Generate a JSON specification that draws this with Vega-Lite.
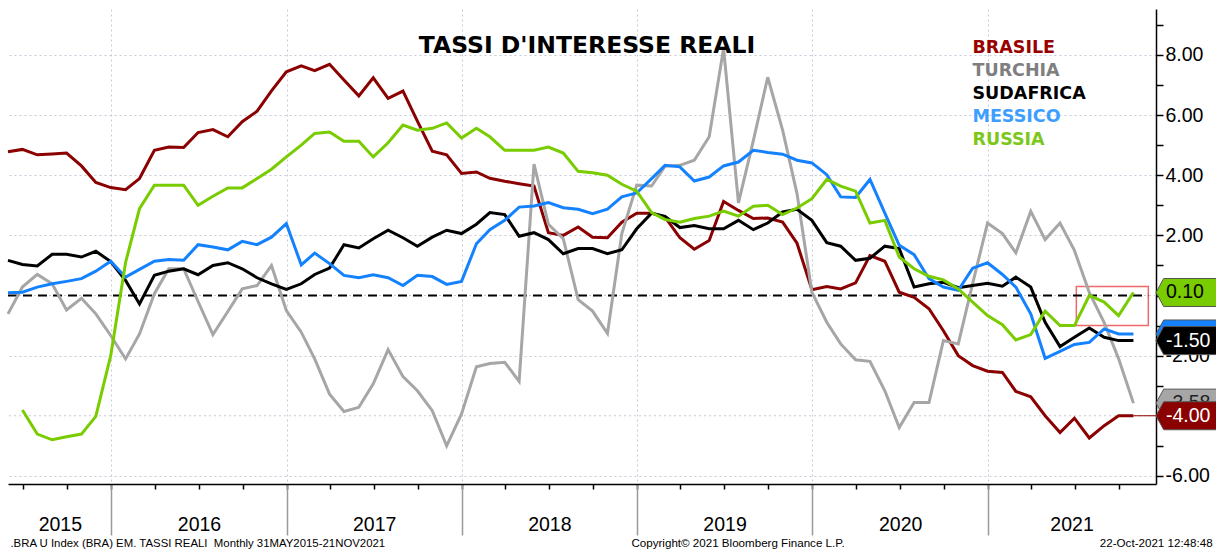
{
  "$schema": "https://vega.github.io/schema/vega-lite/v6.json",
  "width": 1148,
  "height": 475,
  "autosize": "none",
  "padding": {"left": 8, "top": 9, "right": 60, "bottom": 69},
  "background": "white",
  "config": {
    "view": {"stroke": null},
    "font": "DejaVu Sans",
    "locale": {"number": {"decimal": ".", "thousands": ",", "grouping": [3], "currency": ["$", ""], "minus": "-"}}
  },
  "title": {
    "text": "TASSI D'INTERESSE REALI",
    "font": "DejaVu Sans",
    "fontWeight": "bold",
    "fontSize": 23.5,
    "color": "black",
    "anchor": "middle",
    "frame": "group",
    "baseline": "alphabetic",
    "offset": -67,
    "dx": 5
  },
  "data": {
    "values": [
      {"date": "2015-05-31", "BRASILE": 4.78, "TURCHIA": -0.61, "SUDAFRICA": 1.17, "MESSICO": 0.09, "RUSSIA": null},
      {"date": "2015-06-30", "BRASILE": 4.86, "TURCHIA": 0.28, "SUDAFRICA": 1.03, "MESSICO": 0.11, "RUSSIA": -3.81},
      {"date": "2015-07-31", "BRASILE": 4.68, "TURCHIA": 0.70, "SUDAFRICA": 0.98, "MESSICO": 0.28, "RUSSIA": -4.61},
      {"date": "2015-08-31", "BRASILE": 4.71, "TURCHIA": 0.39, "SUDAFRICA": 1.37, "MESSICO": 0.39, "RUSSIA": -4.80},
      {"date": "2015-09-30", "BRASILE": 4.74, "TURCHIA": -0.48, "SUDAFRICA": 1.37, "MESSICO": 0.47, "RUSSIA": -4.70},
      {"date": "2015-10-31", "BRASILE": 4.31, "TURCHIA": -0.09, "SUDAFRICA": 1.28, "MESSICO": 0.56, "RUSSIA": -4.61},
      {"date": "2015-11-30", "BRASILE": 3.76, "TURCHIA": -0.61, "SUDAFRICA": 1.47, "MESSICO": 0.81, "RUSSIA": -4.02},
      {"date": "2015-12-31", "BRASILE": 3.59, "TURCHIA": -1.33, "SUDAFRICA": 1.13, "MESSICO": 1.14, "RUSSIA": -2.00},
      {"date": "2016-01-31", "BRASILE": 3.52, "TURCHIA": -2.11, "SUDAFRICA": 0.50, "MESSICO": 0.61, "RUSSIA": 1.10},
      {"date": "2016-02-29", "BRASILE": 3.89, "TURCHIA": -1.28, "SUDAFRICA": -0.28, "MESSICO": 0.87, "RUSSIA": 2.89},
      {"date": "2016-03-31", "BRASILE": 4.83, "TURCHIA": 0.06, "SUDAFRICA": 0.67, "MESSICO": 1.14, "RUSSIA": 3.67},
      {"date": "2016-04-30", "BRASILE": 4.94, "TURCHIA": 0.89, "SUDAFRICA": 0.81, "MESSICO": 1.20, "RUSSIA": 3.67},
      {"date": "2016-05-31", "BRASILE": 4.92, "TURCHIA": 0.89, "SUDAFRICA": 0.89, "MESSICO": 1.17, "RUSSIA": 3.67},
      {"date": "2016-06-30", "BRASILE": 5.42, "TURCHIA": -0.20, "SUDAFRICA": 0.69, "MESSICO": 1.69, "RUSSIA": 3.00},
      {"date": "2016-07-31", "BRASILE": 5.52, "TURCHIA": -1.30, "SUDAFRICA": 1.00, "MESSICO": 1.61, "RUSSIA": 3.30},
      {"date": "2016-08-31", "BRASILE": 5.28, "TURCHIA": -0.53, "SUDAFRICA": 1.09, "MESSICO": 1.52, "RUSSIA": 3.58},
      {"date": "2016-09-30", "BRASILE": 5.78, "TURCHIA": 0.22, "SUDAFRICA": 0.89, "MESSICO": 1.80, "RUSSIA": 3.58},
      {"date": "2016-10-31", "BRASILE": 6.13, "TURCHIA": 0.33, "SUDAFRICA": 0.59, "MESSICO": 1.69, "RUSSIA": 3.89},
      {"date": "2016-11-30", "BRASILE": 6.81, "TURCHIA": 1.00, "SUDAFRICA": 0.39, "MESSICO": 1.94, "RUSSIA": 4.20},
      {"date": "2016-12-31", "BRASILE": 7.44, "TURCHIA": -0.50, "SUDAFRICA": 0.20, "MESSICO": 2.39, "RUSSIA": 4.61},
      {"date": "2017-01-31", "BRASILE": 7.64, "TURCHIA": -1.22, "SUDAFRICA": 0.39, "MESSICO": 1.02, "RUSSIA": 5.00},
      {"date": "2017-02-28", "BRASILE": 7.48, "TURCHIA": -2.11, "SUDAFRICA": 0.70, "MESSICO": 1.41, "RUSSIA": 5.39},
      {"date": "2017-03-31", "BRASILE": 7.69, "TURCHIA": -3.28, "SUDAFRICA": 0.91, "MESSICO": 1.06, "RUSSIA": 5.44},
      {"date": "2017-04-30", "BRASILE": 7.17, "TURCHIA": -3.86, "SUDAFRICA": 1.69, "MESSICO": 0.67, "RUSSIA": 5.13},
      {"date": "2017-05-31", "BRASILE": 6.64, "TURCHIA": -3.72, "SUDAFRICA": 1.58, "MESSICO": 0.59, "RUSSIA": 5.13},
      {"date": "2017-06-30", "BRASILE": 7.24, "TURCHIA": -2.94, "SUDAFRICA": 1.89, "MESSICO": 0.69, "RUSSIA": 4.61},
      {"date": "2017-07-31", "BRASILE": 6.56, "TURCHIA": -1.80, "SUDAFRICA": 2.17, "MESSICO": 0.59, "RUSSIA": 5.08},
      {"date": "2017-08-31", "BRASILE": 6.80, "TURCHIA": -2.70, "SUDAFRICA": 1.92, "MESSICO": 0.33, "RUSSIA": 5.67},
      {"date": "2017-09-30", "BRASILE": 5.80, "TURCHIA": -3.17, "SUDAFRICA": 1.64, "MESSICO": 0.67, "RUSSIA": 5.50},
      {"date": "2017-10-31", "BRASILE": 4.80, "TURCHIA": -3.83, "SUDAFRICA": 1.94, "MESSICO": 0.63, "RUSSIA": 5.56},
      {"date": "2017-11-30", "BRASILE": 4.68, "TURCHIA": -5.00, "SUDAFRICA": 2.17, "MESSICO": 0.37, "RUSSIA": 5.74},
      {"date": "2017-12-31", "BRASILE": 4.06, "TURCHIA": -3.94, "SUDAFRICA": 2.06, "MESSICO": 0.47, "RUSSIA": 5.24},
      {"date": "2018-01-31", "BRASILE": 4.11, "TURCHIA": -2.37, "SUDAFRICA": 2.37, "MESSICO": 1.72, "RUSSIA": 5.56},
      {"date": "2018-02-28", "BRASILE": 3.90, "TURCHIA": -2.26, "SUDAFRICA": 2.76, "MESSICO": 2.19, "RUSSIA": 5.28},
      {"date": "2018-03-31", "BRASILE": 3.80, "TURCHIA": -2.22, "SUDAFRICA": 2.69, "MESSICO": 2.50, "RUSSIA": 4.83},
      {"date": "2018-04-30", "BRASILE": 3.72, "TURCHIA": -2.86, "SUDAFRICA": 1.97, "MESSICO": 2.94, "RUSSIA": 4.83},
      {"date": "2018-05-31", "BRASILE": 3.64, "TURCHIA": 4.37, "SUDAFRICA": 2.09, "MESSICO": 2.98, "RUSSIA": 4.83},
      {"date": "2018-06-30", "BRASILE": 2.09, "TURCHIA": 2.37, "SUDAFRICA": 1.86, "MESSICO": 3.09, "RUSSIA": 4.94},
      {"date": "2018-07-31", "BRASILE": 2.00, "TURCHIA": 1.89, "SUDAFRICA": 1.39, "MESSICO": 2.92, "RUSSIA": 4.74},
      {"date": "2018-08-31", "BRASILE": 2.28, "TURCHIA": -0.14, "SUDAFRICA": 1.56, "MESSICO": 2.87, "RUSSIA": 4.13},
      {"date": "2018-09-30", "BRASILE": 1.94, "TURCHIA": -0.52, "SUDAFRICA": 1.56, "MESSICO": 2.72, "RUSSIA": 4.08},
      {"date": "2018-10-31", "BRASILE": 1.92, "TURCHIA": -1.26, "SUDAFRICA": 1.39, "MESSICO": 2.87, "RUSSIA": 4.00},
      {"date": "2018-11-30", "BRASILE": 2.44, "TURCHIA": 2.06, "SUDAFRICA": 1.52, "MESSICO": 3.28, "RUSSIA": 3.70},
      {"date": "2018-12-31", "BRASILE": 2.74, "TURCHIA": 3.67, "SUDAFRICA": 2.22, "MESSICO": 3.41, "RUSSIA": 3.47},
      {"date": "2019-01-31", "BRASILE": 2.74, "TURCHIA": 3.64, "SUDAFRICA": 2.74, "MESSICO": 3.89, "RUSSIA": 2.76},
      {"date": "2019-02-28", "BRASILE": 2.61, "TURCHIA": 4.30, "SUDAFRICA": 2.63, "MESSICO": 4.33, "RUSSIA": 2.53},
      {"date": "2019-03-31", "BRASILE": 1.92, "TURCHIA": 4.33, "SUDAFRICA": 2.26, "MESSICO": 4.28, "RUSSIA": 2.44},
      {"date": "2019-04-30", "BRASILE": 1.54, "TURCHIA": 4.50, "SUDAFRICA": 2.33, "MESSICO": 3.81, "RUSSIA": 2.56},
      {"date": "2019-05-31", "BRASILE": 1.83, "TURCHIA": 5.28, "SUDAFRICA": 2.22, "MESSICO": 3.94, "RUSSIA": 2.64},
      {"date": "2019-06-30", "BRASILE": 3.13, "TURCHIA": 8.22, "SUDAFRICA": 2.22, "MESSICO": 4.31, "RUSSIA": 2.81},
      {"date": "2019-07-31", "BRASILE": 2.83, "TURCHIA": 3.08, "SUDAFRICA": 2.50, "MESSICO": 4.44, "RUSSIA": 2.64},
      {"date": "2019-08-31", "BRASILE": 2.56, "TURCHIA": 5.15, "SUDAFRICA": 2.19, "MESSICO": 4.83, "RUSSIA": 2.97},
      {"date": "2019-09-30", "BRASILE": 2.58, "TURCHIA": 7.26, "SUDAFRICA": 2.41, "MESSICO": 4.76, "RUSSIA": 3.00},
      {"date": "2019-10-31", "BRASILE": 2.44, "TURCHIA": 5.50, "SUDAFRICA": 2.78, "MESSICO": 4.70, "RUSSIA": 2.69},
      {"date": "2019-11-30", "BRASILE": 1.74, "TURCHIA": 3.39, "SUDAFRICA": 2.87, "MESSICO": 4.50, "RUSSIA": 2.91},
      {"date": "2019-12-31", "BRASILE": 0.19, "TURCHIA": 0.11, "SUDAFRICA": 2.50, "MESSICO": 4.41, "RUSSIA": 3.22},
      {"date": "2020-01-31", "BRASILE": 0.30, "TURCHIA": -0.89, "SUDAFRICA": 1.76, "MESSICO": 4.02, "RUSSIA": 3.86},
      {"date": "2020-02-29", "BRASILE": 0.22, "TURCHIA": -1.61, "SUDAFRICA": 1.64, "MESSICO": 3.28, "RUSSIA": 3.64},
      {"date": "2020-03-31", "BRASILE": 0.42, "TURCHIA": -2.14, "SUDAFRICA": 1.17, "MESSICO": 3.26, "RUSSIA": 3.47},
      {"date": "2020-04-30", "BRASILE": 1.33, "TURCHIA": -2.19, "SUDAFRICA": 1.24, "MESSICO": 3.86, "RUSSIA": 2.41},
      {"date": "2020-05-31", "BRASILE": 1.14, "TURCHIA": -3.17, "SUDAFRICA": 1.64, "MESSICO": 2.74, "RUSSIA": 2.50},
      {"date": "2020-06-30", "BRASILE": 0.11, "TURCHIA": -4.39, "SUDAFRICA": 1.56, "MESSICO": 1.67, "RUSSIA": 1.28},
      {"date": "2020-07-31", "BRASILE": -0.06, "TURCHIA": -3.56, "SUDAFRICA": 0.28, "MESSICO": 1.36, "RUSSIA": 0.89},
      {"date": "2020-08-31", "BRASILE": -0.44, "TURCHIA": -3.56, "SUDAFRICA": 0.39, "MESSICO": 0.56, "RUSSIA": 0.64},
      {"date": "2020-09-30", "BRASILE": -1.17, "TURCHIA": -1.50, "SUDAFRICA": 0.44, "MESSICO": 0.28, "RUSSIA": 0.52},
      {"date": "2020-10-31", "BRASILE": -2.00, "TURCHIA": -1.61, "SUDAFRICA": 0.26, "MESSICO": 0.17, "RUSSIA": 0.22},
      {"date": "2020-11-30", "BRASILE": -2.33, "TURCHIA": 0.40, "SUDAFRICA": 0.33, "MESSICO": 0.91, "RUSSIA": -0.22},
      {"date": "2020-12-31", "BRASILE": -2.52, "TURCHIA": 2.41, "SUDAFRICA": 0.41, "MESSICO": 1.09, "RUSSIA": -0.67},
      {"date": "2021-01-31", "BRASILE": -2.56, "TURCHIA": 2.06, "SUDAFRICA": 0.31, "MESSICO": 0.70, "RUSSIA": -0.97},
      {"date": "2021-02-28", "BRASILE": -3.19, "TURCHIA": 1.42, "SUDAFRICA": 0.61, "MESSICO": 0.28, "RUSSIA": -1.48},
      {"date": "2021-03-31", "BRASILE": -3.37, "TURCHIA": 2.80, "SUDAFRICA": 0.28, "MESSICO": -0.61, "RUSSIA": -1.30},
      {"date": "2021-04-30", "BRASILE": -4.00, "TURCHIA": 1.86, "SUDAFRICA": -0.89, "MESSICO": -2.09, "RUSSIA": -0.52},
      {"date": "2021-05-31", "BRASILE": -4.56, "TURCHIA": 2.41, "SUDAFRICA": -1.70, "MESSICO": -1.86, "RUSSIA": -1.00},
      {"date": "2021-06-30", "BRASILE": -4.08, "TURCHIA": 1.50, "SUDAFRICA": -1.39, "MESSICO": -1.63, "RUSSIA": -1.00},
      {"date": "2021-07-31", "BRASILE": -4.74, "TURCHIA": 0.10, "SUDAFRICA": -1.08, "MESSICO": -1.56, "RUSSIA": 0.00},
      {"date": "2021-08-31", "BRASILE": -4.33, "TURCHIA": -0.90, "SUDAFRICA": -1.39, "MESSICO": -1.11, "RUSSIA": -0.22},
      {"date": "2021-09-30", "BRASILE": -4.00, "TURCHIA": -2.10, "SUDAFRICA": -1.50, "MESSICO": -1.28, "RUSSIA": -0.67},
      {"date": "2021-10-31", "BRASILE": -4.00, "TURCHIA": -3.58, "SUDAFRICA": -1.50, "MESSICO": -1.28, "RUSSIA": 0.10}
    ]
  },
  "resolve": {"axis": {"x": "independent", "y": "independent"}},
  "layer": [
    {
      "data": {"values": [{"start": "2021-07-04", "end": "2021-12-01", "top": 0.3, "bottom": -1.0}]},
      "mark": {"type": "rect", "fill": "white", "fillOpacity": 0, "stroke": "#EE6A6A", "strokeWidth": 1.5},
      "encoding": {
        "x": {"field": "start", "type": "temporal",
          "scale": {"type": "utc", "domain": [{"year": 2015, "month": 5, "date": 31, "utc": true}, {"year": 2021, "month": 12, "date": 17, "utc": true}]},
          "axis": {"orient": "bottom", "tickCount": {"interval": "month", "step": 3}, "labels": false, "grid": false, "domain": false, "title": null, "tickSize": 5, "tickColor": "black", "tickWidth": 1.5}},
        "x2": {"field": "end"},
        "y": {"field": "top", "type": "quantitative",
          "scale": {"domain": [-6.27, 9.53], "nice": false, "zero": false},
          "axis": {"orient": "right", "values": [-5, -4, -3, -1, 0, 1, 3, 5, 7, 9], "labels": false, "grid": false, "domain": false, "tickSize": 7, "tickColor": "black", "tickWidth": 1.5, "title": null}},
        "y2": {"field": "bottom"}
      }
    },
    {
      "data": {"values": [{"gridline": -4}, {"gridline": 0}]},
      "mark": {"type": "rule", "color": "#c6cad8", "strokeWidth": 1, "strokeDash": [2, 3]},
      "encoding": {
        "y": {"field": "gridline", "type": "quantitative", "axis": null}
      }
    },
    {
      "data": {"values": [{"ref": "zero"}]},
      "mark": {"type": "rule", "color": "black", "strokeWidth": 2, "strokeDash": [9, 6]},
      "encoding": {
        "x": {"datum": {"year": 2015, "month": 5, "date": 31, "utc": true}, "type": "temporal", "axis": null},
        "x2": {"datum": {"year": 2021, "month": 12, "date": 1, "utc": true}},
        "y": {"datum": 0, "type": "quantitative", "axis": null}
      }
    },
    {
      "transform": [
        {"fold": ["BRASILE", "TURCHIA", "SUDAFRICA", "MESSICO", "RUSSIA"], "as": ["series", "value"]},
        {"filter": "datum.value != null"}
      ],
      "mark": {"type": "line", "strokeWidth": 3},
      "encoding": {
        "x": {"field": "date", "type": "temporal",
          "axis": {"orient": "bottom", "tickCount": {"interval": "year", "step": 1}, "labels": false, "title": null, "tickSize": 51, "tickColor": "#9a9a9a", "tickWidth": 1.5, "grid": true, "gridDash": [2, 3], "gridColor": "#c6cad8", "gridWidth": 1, "domain": true, "domainColor": "black", "domainWidth": 1.5}},
        "y": {"field": "value", "type": "quantitative",
          "axis": {"orient": "right", "values": [-6, -2, 2, 4, 6, 8], "format": ".2f", "title": null, "labelFont": "Liberation Sans", "labelFontSize": 19.5, "labelColor": "black", "labelPadding": 2, "labelOverlap": false, "labelFlush": false, "tickSize": 7, "tickColor": "black", "tickWidth": 1.5, "domainColor": "black", "domainWidth": 1.5, "grid": true, "gridDash": [2, 3], "gridColor": "#c6cad8", "gridWidth": 1}},
        "color": {"field": "series", "type": "nominal",
          "scale": {"domain": ["BRASILE", "TURCHIA", "SUDAFRICA", "MESSICO", "RUSSIA"], "range": ["#8B0000", "#A6A6A6", "#000000", "#1482FF", "#78CC00"]},
          "legend": {"orient": "none", "legendX": 947, "legendY": 30.5, "direction": "vertical", "title": null, "padding": 0, "symbolSize": 0, "symbolOpacity": 0, "symbolStrokeWidth": 0, "labelOffset": 0, "labelFont": "DejaVu Sans", "labelFontWeight": "bold", "labelFontSize": 17.5, "rowPadding": 3.9, "labelLimit": 300,
            "encode": {"labels": {"update": {"fill": {"signal": "datum.value === 'BRASILE' ? '#990000' : datum.value === 'TURCHIA' ? '#7F7F7F' : datum.value === 'MESSICO' ? '#3D9EFF' : datum.value === 'RUSSIA' ? '#7CC81A' : '#000000'"}}}}}
        }
      }
    },
    {
      "transform": [
        {"fold": ["BRASILE", "TURCHIA", "SUDAFRICA", "MESSICO", "RUSSIA"], "as": ["series", "value"]},
        {"filter": "+toDate(datum.date) == +toDate('2021-10-31')"},
        {"filter": {"field": "series", "equal": "BRASILE"}}
      ],
      "mark": {"type": "rule", "color": "#8B0000", "strokeWidth": 1},
      "encoding": {
        "x": {"field": "date", "type": "temporal", "axis": null},
        "x2": {"datum": {"year": 2021, "month": 12, "date": 17, "utc": true}},
        "y": {"field": "value", "type": "quantitative", "axis": null}
      }
    },
    {
      "transform": [
        {"fold": ["BRASILE", "TURCHIA", "SUDAFRICA", "MESSICO", "RUSSIA"], "as": ["series", "value"]},
        {"filter": "+toDate(datum.date) == +toDate('2021-10-31')"},
        {"filter": {"field": "series", "oneOf": ["RUSSIA", "MESSICO"]}}
      ],
      "mark": {"type": "point", "filled": true, "opacity": 1, "shape": "M0,0L0.55,-1L4.5,-1L4.5,1L0.55,1Z", "size": 784, "stroke": "#555555", "strokeWidth": 1},
      "encoding": {
        "x": {"datum": {"year": 2021, "month": 12, "date": 17, "utc": true}, "type": "temporal",
          "axis": {"orient": "bottom", "values": [{"year": 2015, "month": 9, "date": 16, "utc": true}, {"year": 2016, "month": 7, "date": 2, "utc": true}, {"year": 2017, "month": 7, "date": 2, "utc": true}, {"year": 2018, "month": 7, "date": 2, "utc": true}, {"year": 2019, "month": 7, "date": 2, "utc": true}, {"year": 2020, "month": 7, "date": 2, "utc": true}, {"year": 2021, "month": 6, "date": 24, "utc": true}],
            "labelExpr": "utcFormat(datum.value, '%Y')", "ticks": false, "domain": false, "grid": false, "title": null, "labelFont": "Liberation Sans", "labelFontSize": 19.5, "labelColor": "black", "labelPadding": 46, "labelBaseline": "alphabetic", "labelFlush": false, "labelOverlap": false}},
        "y": {"field": "value", "type": "quantitative", "axis": null},
        "color": {"field": "series", "type": "nominal", "legend": null}
      }
    },
    {
      "transform": [
        {"fold": ["BRASILE", "TURCHIA", "SUDAFRICA", "MESSICO", "RUSSIA"], "as": ["series", "value"]},
        {"filter": "+toDate(datum.date) == +toDate('2021-10-31')"},
        {"filter": {"field": "series", "equal": "RUSSIA"}}
      ],
      "mark": {"type": "text", "align": "left", "baseline": "middle", "dx": 10, "font": "Liberation Sans", "fontSize": 19.5, "color": "black"},
      "encoding": {
        "x": {"datum": {"year": 2021, "month": 12, "date": 17, "utc": true}, "type": "temporal", "axis": null},
        "y": {"field": "value", "type": "quantitative", "axis": null},
        "text": {"field": "value", "type": "quantitative", "format": ".2f"}
      }
    },
    {
      "transform": [
        {"fold": ["BRASILE", "TURCHIA", "SUDAFRICA", "MESSICO", "RUSSIA"], "as": ["series", "value"]},
        {"filter": "+toDate(datum.date) == +toDate('2021-10-31')"},
        {"filter": {"field": "series", "oneOf": ["SUDAFRICA", "TURCHIA"]}}
      ],
      "mark": {"type": "point", "filled": true, "opacity": 1, "shape": "M0,0L0.55,-1L4.5,-1L4.5,1L0.55,1Z", "size": 784, "stroke": "#555555", "strokeWidth": 1},
      "encoding": {
        "x": {"datum": {"year": 2021, "month": 12, "date": 17, "utc": true}, "type": "temporal", "axis": null},
        "y": {"field": "value", "type": "quantitative", "axis": null},
        "color": {"field": "series", "type": "nominal", "legend": null}
      }
    },
    {
      "transform": [
        {"fold": ["BRASILE", "TURCHIA", "SUDAFRICA", "MESSICO", "RUSSIA"], "as": ["series", "value"]},
        {"filter": "+toDate(datum.date) == +toDate('2021-10-31')"},
        {"filter": {"field": "series", "oneOf": ["SUDAFRICA", "TURCHIA"]}}
      ],
      "mark": {"type": "text", "align": "left", "baseline": "middle", "dx": 10, "font": "Liberation Sans", "fontSize": 19.5},
      "encoding": {
        "x": {"datum": {"year": 2021, "month": 12, "date": 17, "utc": true}, "type": "temporal", "axis": null},
        "y": {"field": "value", "type": "quantitative", "axis": null},
        "text": {"field": "value", "type": "quantitative", "format": ".2f"},
        "color": {"condition": {"test": "datum.series === 'TURCHIA'", "value": "#222222"}, "value": "white"}
      }
    },
    {
      "transform": [
        {"fold": ["BRASILE", "TURCHIA", "SUDAFRICA", "MESSICO", "RUSSIA"], "as": ["series", "value"]},
        {"filter": "+toDate(datum.date) == +toDate('2021-10-31')"},
        {"filter": {"field": "series", "equal": "BRASILE"}}
      ],
      "mark": {"type": "point", "filled": true, "opacity": 1, "shape": "M0,0L0.55,-1L4.5,-1L4.5,1L0.55,1Z", "size": 784, "stroke": "#555555", "strokeWidth": 1},
      "encoding": {
        "x": {"datum": {"year": 2021, "month": 12, "date": 17, "utc": true}, "type": "temporal", "axis": null},
        "y": {"field": "value", "type": "quantitative", "axis": null},
        "color": {"field": "series", "type": "nominal", "legend": null}
      }
    },
    {
      "transform": [
        {"fold": ["BRASILE", "TURCHIA", "SUDAFRICA", "MESSICO", "RUSSIA"], "as": ["series", "value"]},
        {"filter": "+toDate(datum.date) == +toDate('2021-10-31')"},
        {"filter": {"field": "series", "equal": "BRASILE"}}
      ],
      "mark": {"type": "text", "align": "left", "baseline": "middle", "dx": 10, "font": "Liberation Sans", "fontSize": 19.5, "color": "white"},
      "encoding": {
        "x": {"datum": {"year": 2021, "month": 12, "date": 17, "utc": true}, "type": "temporal", "axis": null},
        "y": {"field": "value", "type": "quantitative", "axis": null},
        "text": {"field": "value", "type": "quantitative", "format": ".2f"}
      }
    },
    {
      "data": {"values": [{"text": ".BRA U Index (BRA) EM. TASSI REALI \u00a0Monthly 31MAY2015-21NOV2021"}]},
      "mark": {"type": "text", "align": "left", "baseline": "middle", "font": "Liberation Sans", "fontSize": 11.4, "color": "black"},
      "encoding": {
        "x": {"datum": {"year": 2015, "month": 6, "date": 5, "utc": true}, "type": "temporal", "axis": null},
        "y": {"datum": -8.28, "type": "quantitative", "axis": null},
        "text": {"field": "text"}
      }
    },
    {
      "data": {"values": [{"text": "Copyright© 2021 Bloomberg Finance L.P."}]},
      "mark": {"type": "text", "align": "left", "baseline": "middle", "font": "Liberation Sans", "fontSize": 11.6, "color": "black"},
      "encoding": {
        "x": {"datum": {"year": 2018, "month": 12, "date": 20, "utc": true}, "type": "temporal", "axis": null},
        "y": {"datum": -8.28, "type": "quantitative", "axis": null},
        "text": {"field": "text"}
      }
    },
    {
      "data": {"values": [{"text": "22-Oct-2021 12:48:48"}]},
      "mark": {"type": "text", "align": "right", "baseline": "middle", "font": "Liberation Sans", "fontSize": 11.6, "color": "black"},
      "encoding": {
        "x": {"datum": {"year": 2022, "month": 4, "date": 14, "utc": true}, "type": "temporal", "axis": null},
        "y": {"datum": -8.28, "type": "quantitative", "axis": null},
        "text": {"field": "text"}
      }
    }
  ]
}
